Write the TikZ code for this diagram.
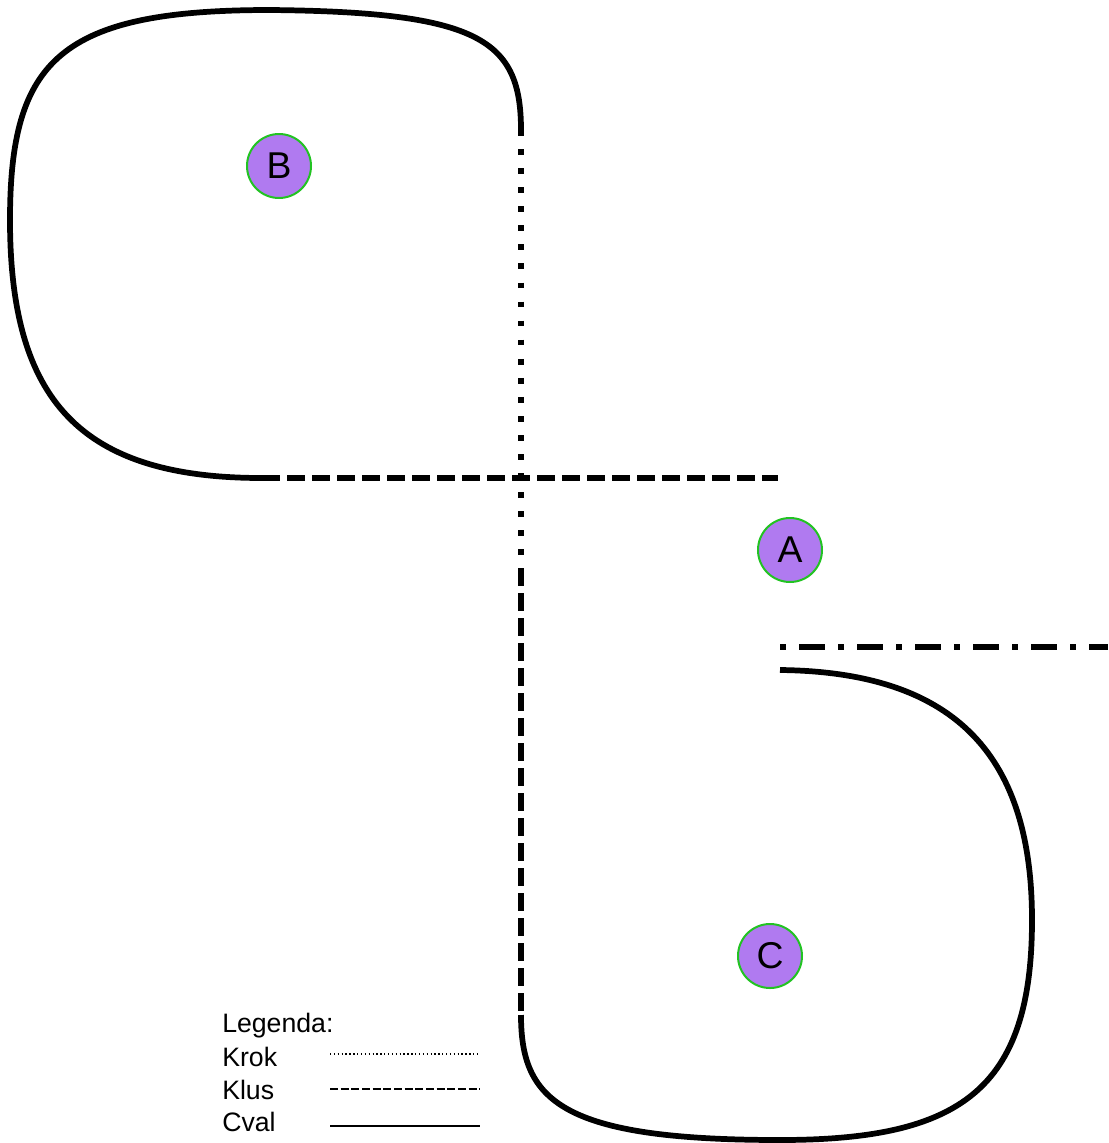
\documentclass[tikz,border=0pt]{standalone}
\usepackage{fontspec}
\setmainfont{Liberation Sans}
\definecolor{placefill}{HTML}{B07AF0}
\definecolor{placering}{HTML}{22C322}
\begin{document}
\begin{tikzpicture}[x=0.75pt, y=-0.75pt,
  every node/.style = {font=\fontsize{20}{24}\selectfont},
  place/.style = {circle, draw=placering, line width=1.5pt, fill=placefill,
    minimum size=48pt, inner sep=0pt, font=\fontsize{28}{32}\selectfont},
  label/.style = {anchor=west, inner sep=0pt},
  cval/.style = {line width=4.3pt},
  krok/.style = {line width=4.3pt, dash pattern=on 4.3pt off 10pt},
  klus/.style = {line width=4.3pt, dash pattern=on 13.5pt off 5.25pt},
  turn/.style = {line width=4.3pt, dash pattern=on 4.5pt off 9.75pt on 19.5pt off 9.75pt}]
\useasboundingbox (0,0) rectangle (1108,1143);
% track points
\coordinate (top-end) at (521,130);
\coordinate (mid-left) at (262,478);
\coordinate (mid-right) at (778,478);
\coordinate (walk-end) at (521,568);
\coordinate (trot-end) at (521,1015);
\coordinate (low-start) at (780,670);
\coordinate (turn-left) at (780,647);
\coordinate (turn-right) at (1108,647);
% places
\node[place] (B) at (279,166) {B};
\node[place] (A) at (790,550) {A};
\node[place] (C) at (770,956) {C};
% track
\draw[cval] (top-end) .. controls (521,40) and (480,12) .. (270,10)
  .. controls (60,10) and (10,60) .. (10,220)
  .. controls (10,400) and (80,478) .. (mid-left);
\draw[klus] (mid-left) -- (mid-right);
\draw[krok] (top-end) -- (walk-end);
\draw[klus] (walk-end) -- (trot-end);
\draw[cval] (trot-end) .. controls (521,1100) and (560,1140) .. (780,1140)
  .. controls (960,1140) and (1032,1090) .. (1032,920)
  .. controls (1032,760) and (960,672) .. (low-start);
\draw[turn] (turn-left) -- (turn-right);
% legend
\node[label] (legend) at (222,1026) {Legenda:};
\node[label] (krok) at (222,1057) {Krok};
\node[label] (klus) at (222,1090) {Klus};
\node[label] (cval) at (222,1122) {Cval};
\coordinate (krok-a) at (330,1054);
\coordinate (krok-b) at (480,1054);
\coordinate (klus-a) at (330,1089);
\coordinate (klus-b) at (480,1089);
\coordinate (cval-a) at (330,1126);
\coordinate (cval-b) at (480,1126);
\draw[line width=1pt, dash pattern=on 1pt off 1.9pt] (krok-a) -- (krok-b);
\draw[line width=1pt, dash pattern=on 6pt off 2pt] (klus-a) -- (klus-b);
\draw[line width=1.3pt] (cval-a) -- (cval-b);
\end{tikzpicture}
\end{document}
